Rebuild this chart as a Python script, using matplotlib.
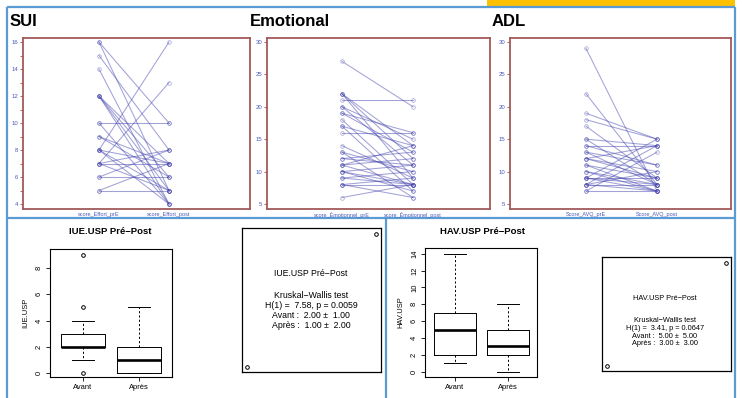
import matplotlib
matplotlib.use("Agg")
import matplotlib.pyplot as plt
from matplotlib.patches import Rectangle

plt.rcParams['font.family'] = ['Liberation Sans', 'DejaVu Sans']

# ---------------- data ----------------
sui_pre  = [16, 16, 15, 14, 12, 12, 12, 12, 10, 10, 9, 9, 8, 8, 8, 8, 7, 7, 7, 7, 6, 6, 5, 5]
sui_post = [10, 5, 8, 4, 7, 6, 5, 4, 10, 4, 6, 7, 16, 5, 4, 7, 13, 7, 8, 5, 8, 6, 5, 7]
sui_labels = ["score_Effort_prE", "score_Effort_post"]

emo_pre  = [27, 22, 22, 22, 21, 20, 20, 19, 18, 17, 17, 16, 14, 13, 12, 11, 11, 11, 10, 10, 10, 9, 9, 8, 8, 8, 6, 12, 13, 19]
emo_post = [20, 14, 12, 9, 21, 15, 11, 13, 8, 14, 7, 16, 9, 6, 13, 14, 12, 8, 11, 8, 7, 8, 10, 8, 9, 6, 8, 11, 10, 16]
emo_labels = ["score_Émotionnel_prE", "score_Émotionnel_post"]

adl_pre  = [29, 22, 19, 18, 17, 15, 15, 14, 13, 12, 12, 11, 11, 10, 9, 9, 9, 8, 8, 8, 7, 7, 9, 13, 12, 8, 10, 14]
adl_post = [7, 8, 15, 15, 9, 14, 8, 14, 11, 9, 10, 7, 9, 8, 15, 9, 8, 14, 8, 7, 13, 7, 7, 8, 14, 10, 7, 11]
adl_labels = ["Score_AVQ_prE", "Score_AVQ_post"]

groups = ["Avant", "Après"]
iue_q1 = [2, 0]; iue_med = [2, 1]; iue_q3 = [3, 2]
iue_lo = [1, 0]; iue_hi = [4, 5]; iue_fliers = [[0, 5, 9], []]
hav_q1 = [2, 2]; hav_med = [5, 3]; hav_q3 = [7, 5]
hav_lo = [1, 0]; hav_hi = [14, 8]; hav_fliers = [[], []]

iue_text = ["IUE.USP Pré−Post", "Kruskal−Wallis test", "H(1) =  7.58, p = 0.0059",
            "Avant :  2.00 ±  1.00", "Après :  1.00 ±  2.00"]
hav_text = ["HAV.USP Pré−Post", "Kruskal−Wallis test", "H(1) =  3.41, p = 0.0647",
            "Avant :  5.00 ±  5.00", "Après :  3.00 ±  3.00"]

# ---------------- figure ----------------
W, H = 742, 398
fig = plt.figure(figsize=(W / 100, H / 100), dpi=100)
fig.patch.set_facecolor('white')


def rect(x0, y0, x1, y1):
    return [x0 / W, 1 - y1 / H, (x1 - x0) / W, (y1 - y0) / H]


def ftext(x, y, s, **kw):
    fig.text(x / W, 1 - y / H, s, **kw)


bg = fig.add_axes([0, 0, 1, 1])
bg.set_xlim(0, W)
bg.set_ylim(H, 0)
bg.axis('off')
blue = '#5b9bd5'
bg.add_patch(Rectangle((487, 0), 248, 7, color='#ffc000', lw=0))
for xs, ys in [([7, 735], [7, 7]), ([7, 7], [7, 398]), ([735, 735], [7, 398]),
               ([7, 735], [218, 218]), ([386, 386], [218, 398])]:
    bg.plot(xs, ys, color=blue, lw=1.6, solid_capstyle='butt')

brown = '#a25a5a'
line_c = '#4646b0'
tick_blue = '#4a5ab8'


def spaghetti(px, pre, post, xlim, ylim, major, minor, labels):
    ax = fig.add_axes(rect(*px))
    for a, b in zip(pre, post):
        ax.plot([1, 2], [a, b], color=line_c, lw=0.75, alpha=0.5,
                marker='o', ms=2.6, mfc='none', mec=line_c, mew=0.5)
    ax.set_xlim(*xlim)
    ax.set_ylim(*ylim)
    ax.set_xticks([1, 2])
    ax.set_xticklabels(labels)
    ax.set_yticks(major)
    ax.set_yticks(minor, minor=True)
    ax.tick_params(axis='x', length=0, labelsize=4, labelcolor=tick_blue, pad=2.5)
    ax.tick_params(axis='y', which='both', length=2, color='#c04040', labelsize=4.3,
                   labelcolor=tick_blue, pad=1.5, width=0.6)
    for s in ax.spines.values():
        s.set_color(brown)
        s.set_linewidth(1.3)
    return ax


spaghetti((23, 38, 250, 209), sui_pre, sui_post, (1 - 76 / 70, 2 + 81 / 70), (3.63, 16.3),
          list(range(4, 17, 2)), list(range(4, 17, 1)), sui_labels)
spaghetti((267, 38, 490, 209), emo_pre, emo_post, (1 - 75 / 71, 2 + 77 / 71), (4.23, 30.6),
          list(range(5, 31, 5)), [], emo_labels)
spaghetti((510, 38, 731, 209), adl_pre, adl_post, (1 - 76 / 71, 2 + 74 / 71), (4.23, 30.6),
          list(range(5, 31, 5)), [], adl_labels)

ftext(10, 22, "SUI", fontsize=12, fontweight='bold', va='center', ha='left')
ftext(250, 22, "Emotional", fontsize=12, fontweight='bold', va='center', ha='left')
ftext(492, 22, "ADL", fontsize=12, fontweight='bold', va='center', ha='left')


def boxpanel(px, q1, med, q3, lo, hi, fliers, xlim, ylim, yticks, ylabel, title, tx, ty):
    ax = fig.add_axes(rect(*px))
    stats = []
    for i in range(2):
        stats.append(dict(q1=q1[i], med=med[i], q3=q3[i], whislo=lo[i], whishi=hi[i],
                          fliers=fliers[i]))
    ax.bxp(stats, positions=[1, 2], widths=0.8,
           boxprops=dict(lw=0.7, color='k'),
           whiskerprops=dict(lw=0.7, ls=(0, (2.2, 2.2)), color='k'),
           capprops=dict(lw=0.7, color='k'),
           medianprops=dict(lw=1.9, color='k', solid_capstyle='butt'),
           flierprops=dict(marker='o', ms=2.6, mfc='none', mec='k', mew=0.7))
    ax.set_xlim(*xlim)
    ax.set_ylim(*ylim)
    ax.set_xticks([1, 2])
    ax.set_xticklabels(groups)
    ax.set_yticks(yticks)
    ax.set_yticklabels([str(v) for v in yticks], rotation=90, va='center')
    ax.tick_params(axis='both', length=3, width=0.6, labelsize=5.4, pad=2)
    ax.set_ylabel(ylabel, fontsize=5.4, labelpad=5)
    for s in ax.spines.values():
        s.set_linewidth(0.8)
    ftext(tx, ty, title, fontsize=6.8, fontweight='bold', ha='center', va='center')
    return ax


boxpanel((50, 249, 172, 377), iue_q1, iue_med, iue_q3, iue_lo, iue_hi, iue_fliers,
         (1 - 33 / 56, 2 + 33 / 56), (-0.3, 9.45), [0, 2, 4, 6, 8], "IUE.USP",
         "IUE.USP Pré−Post", 110, 232)
boxpanel((425, 248, 537, 377), hav_q1, hav_med, hav_q3, hav_lo, hav_hi, hav_fliers,
         (1 - 30 / 53, 2 + 29 / 53), (-0.65, 14.7), list(range(0, 15, 2)), "HAV.USP",
         "HAV.USP Pré−Post", 482, 231)


def textpanel(px, lines, cx, ys, fs):
    x0, y0, x1, y1 = px
    ax = fig.add_axes(rect(*px))
    ax.set_facecolor('none')
    ax.set_xlim(0, 1)
    ax.set_ylim(0, 1)
    ax.set_xticks([])
    ax.set_yticks([])
    for s in ax.spines.values():
        s.set_linewidth(0.9)
    w, h = x1 - x0, y1 - y0
    ax.plot([1 - 5 / w, 5 / w], [1 - 6 / h, 5 / h], ls='none', marker='o', ms=2.6,
            mfc='none', mec='k', mew=0.7)
    for s, y in zip(lines, ys):
        ftext(cx, y, s, fontsize=fs, ha='center', va='center')


textpanel((242, 228, 381, 372), iue_text, 311, [274, 295, 306, 316, 326], 6.3)
textpanel((602, 257, 731, 371), hav_text, 665, [298, 321, 328.5, 336, 343.5], 5.3)

fig.savefig("out.png", dpi=100)
